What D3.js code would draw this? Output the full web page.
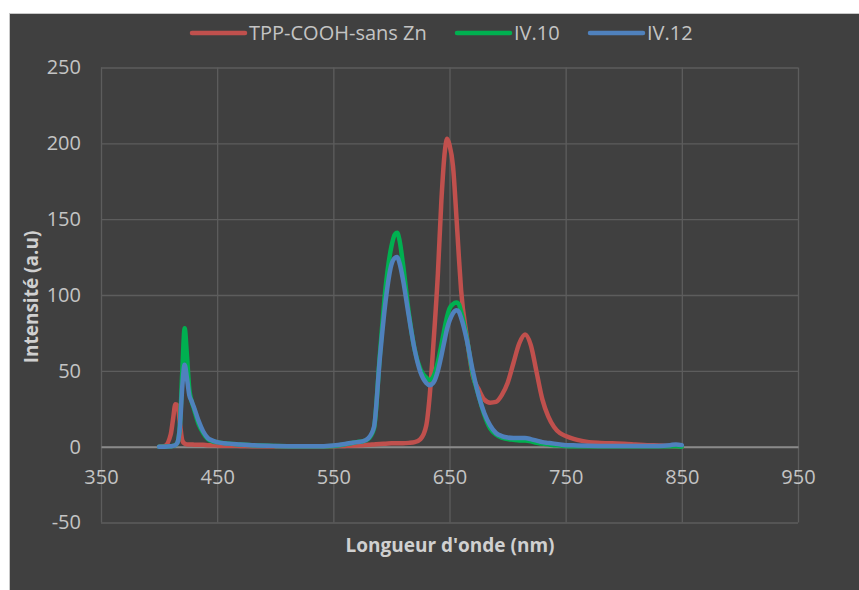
<!DOCTYPE html>
<html><head><meta charset="utf-8">
<script src="https://cdn.jsdelivr.net/npm/d3@7"></script>
<style>
html,body{margin:0;padding:0;background:#fff;}
svg{display:block;font-family:"Open Sans",sans-serif;}
</style></head>
<body><svg id="c" width="859" height="590"></svg>
<script>
const seriesNames = ["TPP-COOH-sans Zn", "IV.10", "IV.12"];
const seriesColors = ["#c0504d", "#00b050", "#4f81bd"];
const xTicks = [350, 450, 550, 650, 750, 850, 950];
const yTicks = [-50, 0, 50, 100, 150, 200, 250];

const wavelengths = [400,405,410,412,414,416,418,420,422,424,426,428,430,434,438,442,446,450,460,470,480,500,520,540,550,560,565,570,575,580,585,590,595,600,603,605,607,610,615,620,625,630,633,636,640,643,646,648,650,653,656,658,660,665,670,675,680,685,690,695,700,705,710,715,720,725,730,735,740,745,750,760,770,780,790,800,810,820,830,840,845,850];

const tppValues = [0,0.5,8,18,28,27,15,4,2,1.5,1.5,1.5,1.3,1.2,1.2,1,1,0.8,0.6,0.5,0.3,0.2,0.2,0.2,0.3,0.5,0.6,0.8,1,1.2,1.5,1.8,2,2.2,2.3,2.3,2.3,2.3,2.5,3,5,14,34,66,114,162,195,203,199,185,151,126,103,72,47,38,31,29,29.5,34,42,55,68,74,67,49,31,20,13,9,7,4.5,3,2.5,2.2,2,1.5,1,0.8,0.5,0.3,0];

const iv10Values = [0,0,0.3,0.5,1,3,15,50,78,60,38,30,25,15,9,5,3.5,3,2,1.5,1,0.5,0.3,0.3,0.5,1.5,2.2,3,3.5,5,12,60,105,132,140,141,136,120,88,64,51,45.5,44,46,56,67,79,86,91,94,95,94,89,71,48,34,21,12,8,6,5,4.5,4,4,3.5,2.5,2,1.5,1,0.8,0.5,0.3,0.2,0.2,0.2,0.2,0.2,0.2,0.2,0.2,0.2,0];

const iv12Values = [0,0,0.3,0.5,1,3,14,40,54,45,34,30,26,17,10,5.7,4,3,2,1.5,1,0.5,0.3,0.3,0.8,1.8,2.4,3,3.5,5.5,13,58,96,120,124.5,125,121,110,86,64,49,42,40.5,42,50,60,71,78,83,88,90,89,85,70,50,34,22,14,9,7,6,5.7,5.7,5.7,5,4,3,2.5,2,1.5,1,0.8,0.6,0.5,0.5,0.5,0.5,0.5,0.5,1,1.5,1];

const allValues = [tppValues, iv10Values, iv12Values];

const svg = d3.select("#c");
svg.append("rect").attr("x",9.5).attr("y",13.5).attr("width",860).attr("height",590)
  .attr("fill","#404040").attr("stroke","#c8c8c8").attr("stroke-width",1);

const L=101, R=798, T=67.5, B=522.5;
const x = d3.scaleLinear().domain([350,950]).range([L,R]);
const y = d3.scaleLinear().domain([-50,250]).range([B,T]);
const fmt = d => String(d);

const gx = svg.append("g").attr("transform",`translate(0,${B})`)
  .call(d3.axisBottom(x).tickValues(xTicks).tickSize(-(B-T)).tickFormat(""));
gx.select(".domain").remove();
gx.selectAll("line").attr("stroke","#5d5d5d").attr("stroke-width",1.3);

const gy = svg.append("g").attr("transform",`translate(${L},0)`)
  .call(d3.axisLeft(y).tickValues(yTicks).tickSize(-(R-L)).tickPadding(20).tickFormat(fmt));
gy.select(".domain").remove();
gy.selectAll("line").attr("stroke","#5d5d5d").attr("stroke-width",1.3);
gy.selectAll("text").attr("fill","#c4c4c4").attr("font-size",20).attr("font-family","Open Sans");

const g0 = svg.append("g").attr("transform",`translate(0,${y(0)})`)
  .call(d3.axisBottom(x).tickValues(xTicks).tickSize(0).tickPadding(23).tickFormat(fmt));
g0.select(".domain").attr("stroke","#8a8a8a").attr("stroke-width",2);
g0.selectAll("text").attr("fill","#c4c4c4").attr("font-size",20).attr("font-family","Open Sans");

const line = d3.line().x((d,i)=>x(wavelengths[i])).y(d=>y(d)).curve(d3.curveMonotoneX);
allValues.forEach((vals,k)=>{
  svg.append("path").datum(vals).attr("d",line).attr("fill","none")
    .attr("stroke",seriesColors[k]).attr("stroke-width",4.5)
    .attr("stroke-linejoin","round").attr("stroke-linecap","round");
});

svg.append("text").attr("x",450).attr("y",552).attr("text-anchor","middle")
  .attr("fill","#d0d0d0").attr("font-weight","bold").attr("font-size",19)
  .text("Longueur d'onde (nm)");
svg.append("text").attr("transform","translate(38,297) rotate(-90)").attr("text-anchor","middle")
  .attr("fill","#d0d0d0").attr("font-weight","bold").attr("font-size",19)
  .text("Intensité (a.u)");

const legendX = [192, 457, 590];
const lg = svg.append("g");
seriesNames.forEach((n,k)=>{
  lg.append("line").attr("x1",legendX[k]).attr("x2",legendX[k]+53).attr("y1",33).attr("y2",33)
    .attr("stroke",seriesColors[k]).attr("stroke-width",4.5).attr("stroke-linecap","round");
  lg.append("text").attr("x",legendX[k]+57).attr("y",40).attr("fill","#c4c4c4")
    .attr("font-size",20).text(n);
});
</script></body></html>
